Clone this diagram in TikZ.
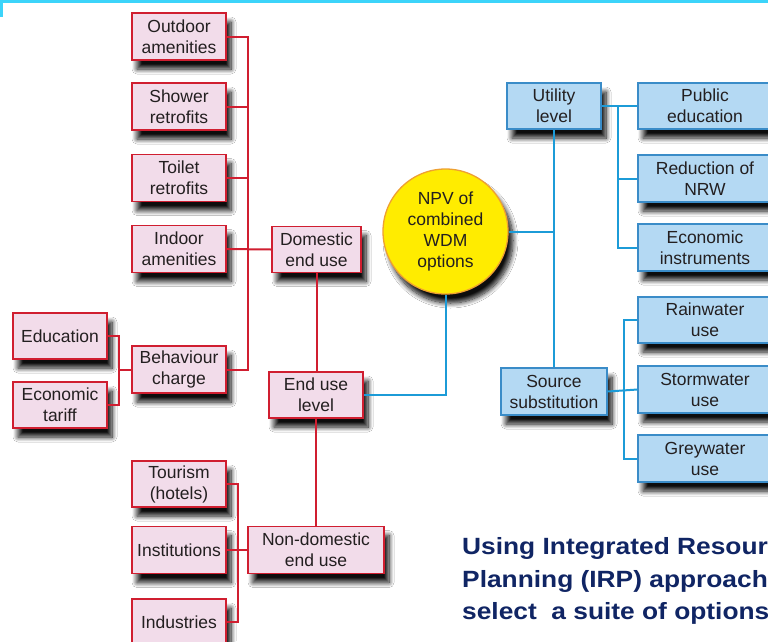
\documentclass[tikz,border=0pt]{standalone}
\usepackage{fontspec}
\setmainfont{Liberation Sans}
\usetikzlibrary{shadows.blur}
\definecolor{pinkfill}{RGB}{242,220,234}
\definecolor{redc}{RGB}{208,30,48}
\definecolor{bluefill}{RGB}{180,217,243}
\definecolor{blueborder}{RGB}{58,140,200}
\definecolor{bluelinec}{RGB}{28,155,215}
\definecolor{yellowc}{RGB}{255,236,0}
\definecolor{orangec}{RGB}{238,160,50}
\definecolor{navyc}{RGB}{16,37,100}
\definecolor{cyanc}{RGB}{60,212,250}
\definecolor{textc}{RGB}{35,31,32}
\tikzset{
  shad/.style={blur shadow={shadow xshift=5pt, shadow yshift=-9pt, shadow blur steps=10, shadow blur radius=5pt, shadow opacity=95}},
  pbox/.style={shad, draw=redc, fill=pinkfill, line width=1.3pt, minimum width=94pt, minimum height=47pt, inner sep=0pt, align=center, text=textc, font=\fontsize{17.5}{21}\selectfont},
  bbox/.style={shad, draw=blueborder, fill=bluefill, line width=1.3pt, minimum width=94pt, minimum height=47pt, inner sep=0pt, align=center, text=textc, font=\fontsize{17.5}{21}\selectfont},
  redline/.style={draw=redc, line width=2pt},
  blueline/.style={draw=bluelinec, line width=2pt},
}
\begin{document}
\begin{tikzpicture}[x=1pt,y=-1pt]
\useasboundingbox (0,0) rectangle (768,641);
\clip (0,0) rectangle (768,641);
\fill[white] (0,0) rectangle (768,641);
\fill[cyanc] (0,0) rectangle (768,2.5);
\fill[cyanc] (0,0) rectangle (2.5,17);

% coordinates for buses
\coordinate (dbus) at (248,0);
\coordinate (ebus) at (119,0);
\coordinate (nbus) at (238,0);
\coordinate (ubus) at (618,0);
\coordinate (sbus) at (624,0);

% pink nodes
\node[pbox] (outdoor) at (179,36.5) {Outdoor\\amenities};
\node[pbox] (shower) at (179,106.5) {Shower\\retrofits};
\node[pbox] (toilet) at (179,178) {Toilet\\retrofits};
\node[pbox] (indoor) at (179,249) {Indoor\\amenities};
\node[pbox] (behaviour) at (179,369.5) {Behaviour\\charge};
\node[pbox, minimum height=46pt] (education) at (60,336) {Education};
\node[pbox, minimum height=46pt] (tariff) at (60,405) {Economic\\tariff};
\node[pbox, minimum width=89pt, minimum height=46pt] (domestic) at (316.5,249.5) {Domestic\\end use};
\node[pbox, minimum height=46pt] (enduse) at (316,395) {End use\\level};
\node[pbox, minimum width=136pt] (nondomestic) at (316,550) {Non-domestic\\end use};
\node[pbox, minimum height=46pt] (tourism) at (179,484) {Tourism\\(hotels)};
\node[pbox] (institutions) at (179,550) {Institutions};
\node[pbox, minimum height=46pt] (industries) at (179,622) {Industries};

% circle
\node[shad, circle, draw=orangec, fill=yellowc, line width=1.3pt, minimum size=125pt, inner sep=0pt, align=center, text=textc, font=\fontsize{17.5}{21.3}\selectfont] (npv) at (445.5,231.5) {NPV of\\combined\\WDM\\options};

% blue nodes
\node[bbox, minimum height=46pt] (utility) at (554,106) {Utility\\level};
\node[bbox, minimum width=134pt, minimum height=46pt] (public) at (705,106) {Public\\education};
\node[bbox, minimum width=134pt] (reduction) at (705,178.5) {Reduction of\\NRW};
\node[bbox, minimum width=134pt] (instruments) at (705,247.5) {Economic\\instruments};
\node[bbox, minimum width=106pt] (source) at (554,391.5) {Source\\substitution};
\node[bbox, minimum width=134pt, minimum height=46pt] (rainwater) at (705,320) {Rainwater\\use};
\node[bbox, minimum width=134pt] (stormwater) at (705,389.5) {Stormwater\\use};
\node[bbox, minimum width=134pt] (greywater) at (705,458.5) {Greywater\\use};

% red connectors
\draw[redline] (outdoor.east) -- (outdoor.east -| dbus) -- (behaviour.east -| dbus) -- (behaviour.east);
\draw[redline] (shower.east) -- (shower.east -| dbus);
\draw[redline] (toilet.east) -- (toilet.east -| dbus);
\draw[redline] (indoor.east) -- (domestic.west);
\draw[redline] (education.east) -- (education.east -| ebus) -- (tariff.east -| ebus) -- (tariff.east);
\draw[redline] (behaviour.west) -- (behaviour.west -| ebus);
\draw[redline] (domestic.south) -- (domestic.south |- enduse.north);
\draw[redline] (enduse.south) -- (nondomestic.north);
\draw[redline] (tourism.east) -- (tourism.east -| nbus) -- (industries.east -| nbus) -- (industries.east);
\draw[redline] (institutions.east) -- (nondomestic.west);

% blue connectors
\draw[blueline] (enduse.east) -| (npv.south);
\draw[blueline] (npv.east) -- (npv.east -| utility.south);
\draw[blueline] (utility.south) -- (utility.south |- source.north);
\draw[blueline] (utility.east) -- (public.west);
\draw[blueline] (utility.east -| ubus) -- (instruments.west -| ubus) -- (instruments.west);
\draw[blueline] (reduction.west) -- (reduction.west -| ubus);
\draw[blueline] (rainwater.west) -- (rainwater.west -| sbus) -- (greywater.west -| sbus) -- (greywater.west);
\draw[blueline] (source.east) -- (stormwater.west);

% title
\node[anchor=base west, inner sep=0pt, text=navyc, font=\fontsize{23.5}{23.5}\bfseries\selectfont] (t1) at (462,554) {\scalebox{1.12}[1]{Using Integrated Resource}};
\node[anchor=base west, inner sep=0pt, text=navyc, font=\fontsize{23.5}{23.5}\bfseries\selectfont] (t2) at (462,587) {\scalebox{1.12}[1]{Planning (IRP) approach to}};
\node[anchor=base west, inner sep=0pt, text=navyc, font=\fontsize{23.5}{23.5}\bfseries\selectfont] (t3) at (462,619) {\scalebox{1.12}[1]{select\ \ a suite of options}};
\end{tikzpicture}
\end{document}
